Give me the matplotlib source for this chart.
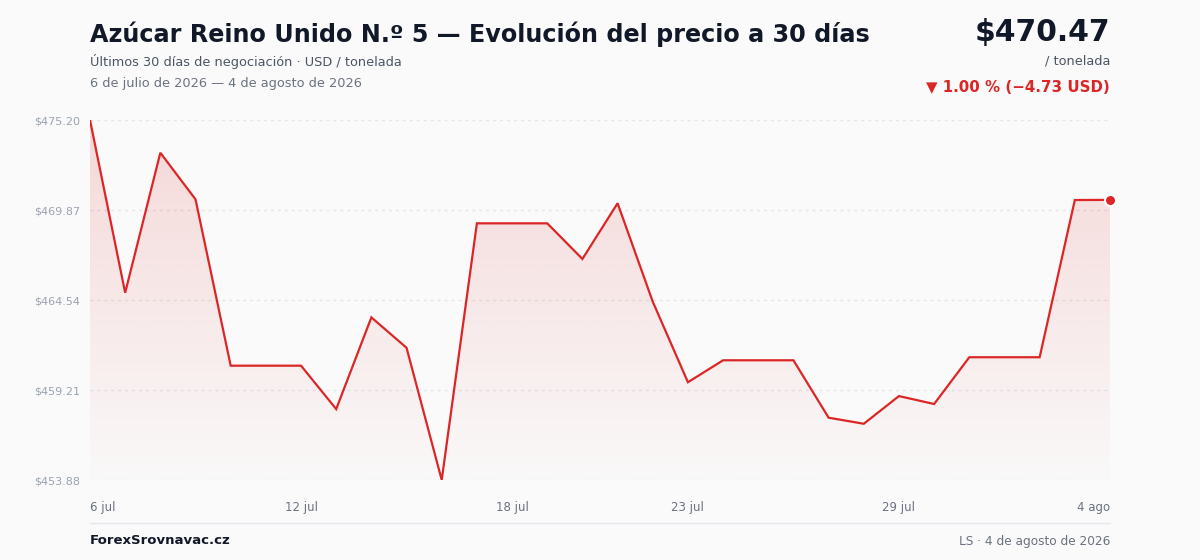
import numpy as np
import pandas as pd
import matplotlib
matplotlib.use("Agg")
import matplotlib.pyplot as plt
import matplotlib.dates as mdates

# daily prices, 6 jul -> 4 ago 2026 (USD / tonelada)
dates = pd.date_range("2026-07-06", "2026-08-04", freq="D")
prices = [475.20, 464.97, 473.26, 470.50, 460.65, 460.65, 460.65, 458.08, 463.51, 461.71,
          453.88, 469.08, 469.08, 469.08, 466.97, 470.27, 464.44, 459.67, 460.97, 460.97,
          460.97, 457.57, 457.21, 458.85, 458.38, 461.15, 461.15, 461.15, 470.46, 470.47]

tick_dates = ["2026-07-06", "2026-07-12", "2026-07-18", "2026-07-23", "2026-07-29", "2026-08-04"]
tick_labels = ["6 jul", "12 jul", "18 jul", "23 jul", "29 jul", "4 ago"]

title = "Azúcar Reino Unido N.º 5 — Evolución del precio a 30 días"
subtitle = "Últimos 30 días de negociación · USD / tonelada"
period = "6 de julio de 2026 — 4 de agosto de 2026"
last_price = "$470.47"
unit = "/ tonelada"
change = "▼ 1.00 % (−4.73 USD)"
source = "ForexSrovnavac.cz"
stamp = "LS · 4 de agosto de 2026"

RED = "#dc2626"
BG = "#fafafa"

plt.rcParams["font.family"] = ["DejaVu Sans"]

fig = plt.figure(figsize=(12, 5.6), dpi=100, facecolor=BG)
ax = fig.add_axes([0.075, 80 / 560, 0.85, 360 / 560])
ax.set_facecolor(BG)

x = mdates.date2num(dates)
y = np.array(prices)
ymin, ymax = y.min(), y.max()

ax.set_xlim(x[0], x[-1])
ax.set_ylim(ymin, ymax)

# gradient fill under the line
grad = np.zeros((256, 1, 4))
grad[:, 0, 0] = 220 / 255
grad[:, 0, 1] = 38 / 255
grad[:, 0, 2] = 38 / 255
grad[:, 0, 3] = np.linspace(0.01, 0.16, 256)
im = ax.imshow(grad, extent=[x[0], x[-1], ymin, ymax], aspect="auto",
               origin="lower", zorder=1, interpolation="bilinear")
poly = ax.fill_between(x, y, ymin, color="none", lw=0)
im.set_clip_path(poly.get_paths()[0], ax.transData)

ax.plot(x, y, color=RED, lw=1.6, zorder=3, solid_joinstyle="miter")
ax.plot(x[-1], y[-1], "o", color=RED, ms=8, mec="white", mew=1.5,
        zorder=4, clip_on=False)

yticks = np.linspace(ymin, ymax, 5)
ax.set_yticks(yticks)
ax.set_yticklabels([f"${v:.2f}" for v in yticks])
for v in yticks:
    ax.axhline(v, color="#e3e5e8", lw=1, ls=(0, (2, 3)), zorder=0)

ax.set_xticks(mdates.date2num(pd.to_datetime(tick_dates)))
ax.set_xticklabels(tick_labels)
xl = ax.get_xticklabels()
xl[0].set_ha("left")
xl[-1].set_ha("right")

ax.tick_params(axis="y", length=0, pad=7, labelsize=8, labelcolor="#9aa3b1")
ax.tick_params(axis="x", length=0, pad=15, labelsize=8.5, labelcolor="#6b7280")
for s in ax.spines.values():
    s.set_visible(False)

# header
fig.text(90 / 1200, 1 - 34 / 560, title, fontsize=17.2, fontweight="bold",
         color="#111827", va="center", ha="left")
fig.text(90 / 1200, 1 - 61 / 560, subtitle, fontsize=9.3, color="#4b5563",
         va="center", ha="left")
fig.text(90 / 1200, 1 - 83 / 560, period, fontsize=9.3, color="#6b7280",
         va="center", ha="left")
fig.text(1110 / 1200, 1 - 32 / 560, last_price, fontsize=21.5, fontweight="bold",
         color="#111827", va="center", ha="right")
fig.text(1110 / 1200, 1 - 61 / 560, unit, fontsize=9.3, color="#4b5563",
         va="center", ha="right")
fig.text(1110 / 1200, 1 - 87 / 560, change, fontsize=10.8, fontweight="bold",
         color=RED, va="center", ha="right")

# footer
fig.add_artist(plt.Line2D([90 / 1200, 1110 / 1200], [1 - 523 / 560] * 2,
                          color="#e5e7eb", lw=1))
fig.text(90 / 1200, 1 - 541 / 560, source, fontsize=9.5, fontweight="bold",
         color="#111827", va="center", ha="left")
fig.text(1110 / 1200, 1 - 541 / 560, stamp, fontsize=8.7, color="#6b7280",
         va="center", ha="right")

fig.savefig("out.png", dpi=100, facecolor=BG)
